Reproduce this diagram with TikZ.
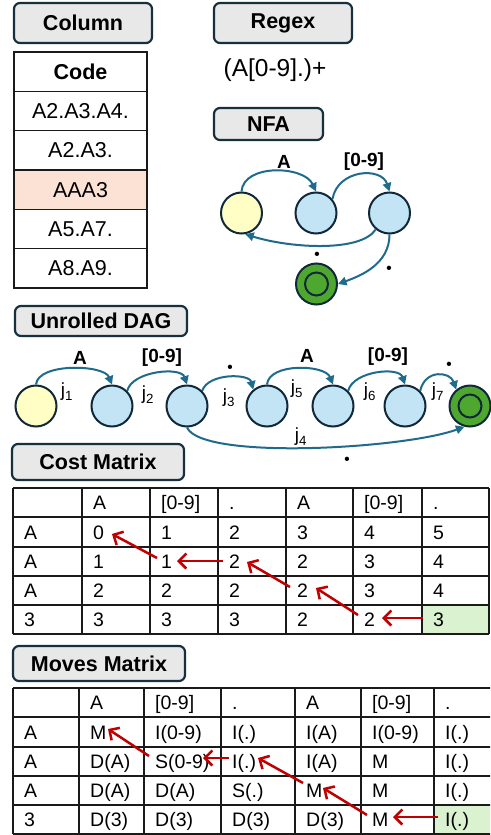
\documentclass[tikz,border=0pt]{standalone}
\usepackage{fontspec}
\setmainfont{Liberation Sans}
\newfontfamily\dotfont{Latin Modern Roman}
\usetikzlibrary{arrows.meta,calc}
\definecolor{tborder}{HTML}{17303E}
\definecolor{titlefill}{HTML}{E8E8E8}
\definecolor{gridc}{HTML}{1A1A1A}
\definecolor{peach}{HTML}{FBE2D5}
\definecolor{cellgreen}{HTML}{DAF2D0}
\definecolor{edgeblue}{HTML}{1F6B8C}
\definecolor{nodeborder}{HTML}{10283A}
\definecolor{nodeblue}{HTML}{C2E4F5}
\definecolor{nodeyellow}{HTML}{FFFFC5}
\definecolor{nodegreen}{HTML}{4EA72E}
\definecolor{pathred}{HTML}{C00000}
\newcommand\costrow[9]{%
\node[ctext] (c#1-0) at (24,#2) {#3};
\node[ctext] (c#1-1) at (93,#2) {#4};
\node[ctext] (c#1-2) at (161,#2) {#5};
\node[ctext] (c#1-3) at (229,#2) {#6};
\node[ctext] (c#1-4) at (297,#2) {#7};
\node[ctext] (c#1-5) at (364,#2) {#8};
\node[ctext] (c#1-6) at (433,#2) {#9};}
\newcommand\movesrow[9]{%
\node[ctext] (m#1-0) at (24,#2) {#3};
\node[ctext] (m#1-1) at (90,#2) {#4};
\node[ctext] (m#1-2) at (155,#2) {#5};
\node[ctext] (m#1-3) at (232,#2) {#6};
\node[ctext] (m#1-4) at (306,#2) {#7};
\node[ctext] (m#1-5) at (372,#2) {#8};
\node[ctext] (m#1-6) at (445,#2) {#9};}
\begin{document}
\begin{tikzpicture}[x=1pt,y=-1pt,
  titlebox/.style={draw=tborder, line width=2.2pt, rounded corners=6pt, fill=titlefill, inner sep=0pt,
    font=\fontsize{21.5}{24}\selectfont\bfseries},
  codecell/.style={draw=gridc, line width=1.5pt, minimum width=133, minimum height=39.3, inner sep=0pt,
    font=\fontsize{21.5}{24}\selectfont},
  grid/.style={draw=gridc, line width=1.5pt},
  ctext/.style={anchor=base west, inner sep=0pt, font=\fontsize{19.5}{22}\selectfont},
  state/.style={circle, draw=nodeborder, line width=2pt, minimum size=41, inner sep=0pt, fill=nodeblue},
  startstate/.style={state, fill=nodeyellow},
  finalstate/.style={state, fill=nodegreen,
    path picture={\draw[nodeborder, line width=2pt] (path picture bounding box.center) circle[radius=11.5pt];}},
  edge/.style={draw=edgeblue, line width=2pt, -{Triangle[length=8.5pt,width=8.5pt]}},
  elabel/.style={inner sep=0pt, font=\fontsize{19}{22}\selectfont\bfseries},
  dotlabel/.style={inner sep=0pt, font=\dotfont\fontsize{30}{32}\selectfont\bfseries},
  jlabel/.style={inner sep=0pt, font=\fontsize{19}{22}\selectfont},
  redarrow/.style={draw=pathred, line width=2.5pt, -{Straight Barb[length=7.5pt,width=15pt]}}
]
\useasboundingbox (0,0) rectangle (490,835);
\fill[white] (0,0) rectangle (490,835);

% ---------- titles ----------
\node[titlebox, minimum width=138, minimum height=40] (tcolumn) at (83,23) {Column};
\node[titlebox, minimum width=138, minimum height=40] (tregex) at (283,23) {Regex};
\node[titlebox, minimum width=109, minimum height=32] (tnfa) at (268.5,124) {NFA};
\node[titlebox, minimum width=172, minimum height=30] (tdag) at (101,321) {Unrolled DAG};
\node[titlebox, minimum width=172, minimum height=36] (tcost) at (98,462) {Cost Matrix};
\node[titlebox, minimum width=172, minimum height=35] (tmoves) at (99,663.5) {Moves Matrix};

% ---------- column table ----------
\node[codecell] (code0) at (80.5,71.65) {\bfseries Code};
\node[codecell] (code1) at (80.5,111) {A2.A3.A4.};
\node[codecell] (code2) at (80.5,150.3) {A2.A3.};
\node[codecell, fill=peach] (code3) at (80.5,189.6) {AAA3};
\node[codecell] (code4) at (80.5,229) {A5.A7.};
\node[codecell] (code5) at (80.5,268.3) {A8.A9.};

% ---------- regex ----------
\node[inner sep=0pt, font=\fontsize{24.5}{28}\selectfont] (regex) at (275,70) {(A[0-9].)+};

% ---------- NFA ----------
\node[startstate] (q0) at (241.5,213) {};
\node[state] (q1) at (316,213) {};
\node[state] (q2) at (389.5,213) {};
\node[finalstate] (qf) at (316.5,284) {};
\draw[edge] (q0.north) .. controls +(2,-28) and +(-12,-26) .. (q1.north);
\draw[edge] (q1.40) .. controls +(5,-30) and +(-8,-25) .. (q2.north);
\draw[edge] (q2.230) .. controls +(-15,23) and +(45,14) .. (q0.-80);
\draw[edge] (q2.south) .. controls +(0,30) and +(22,-8) .. (qf.east);
\node[elabel] (lA) at (284,162) {A};
\node[elabel] (l09) at (364,162) {[0-9]};
\node[dotlabel] (ldot1) at (317,254) {.};
\node[dotlabel] (ldot2) at (389,268) {.};

% ---------- unrolled DAG ----------
\node[startstate] (d1) at (36,406) {};
\node[state] (d2) at (112,406) {};
\node[state] (d3) at (187,406) {};
\node[state] (d4) at (267,406) {};
\node[state] (d5) at (333,406) {};
\node[state] (d6) at (405,406) {};
\node[finalstate] (d7) at (470,406) {};
\draw[edge] (d1.north) .. controls +(2,-22) and +(-8,-20) .. (d2.north);
\draw[edge] (d2.45) .. controls +(5,-20) and +(-6,-18) .. (d3.north);
\draw[edge] (d3.45) .. controls +(6,-18) and +(-4,-16) .. (d4.130);
\draw[edge] (d4.north) .. controls +(2,-22) and +(-8,-20) .. (d5.north);
\draw[edge] (d5.45) .. controls +(5,-20) and +(-6,-18) .. (d6.north);
\draw[edge] (d6.45) .. controls +(5,-22) and +(-6,-18) .. (d7.130);
\draw[edge] (d3.south) .. controls +(15,33) and +(-60,22) .. (d7.255);
\node[elabel] (dA1) at (80,358) {A};
\node[elabel] (d091) at (162,358) {[0-9]};
\node[dotlabel] (ddot1) at (230,367) {.};
\node[elabel] (dA2) at (307,356) {A};
\node[elabel] (d092) at (388,357) {[0-9]};
\node[dotlabel] (ddot2) at (449,364) {.};
\node[dotlabel] (ddot3) at (347,459) {.};
\node[jlabel] (j1) at (67,392) {j\textsubscript{1}};
\node[jlabel] (j2) at (148,395) {j\textsubscript{2}};
\node[jlabel] (j3) at (229,398) {j\textsubscript{3}};
\node[jlabel] (j5) at (297,389) {j\textsubscript{5}};
\node[jlabel] (j6) at (370,392) {j\textsubscript{6}};
\node[jlabel] (j7) at (438,392) {j\textsubscript{7}};
\node[jlabel] (j4) at (301,437) {j\textsubscript{4}};

% ---------- tables ----------
\begin{scope}
\clip (0,0) rectangle (490,835);
% cost matrix
\fill[cellgreen] (422,605) rectangle (489,634);
\foreach \yy in {488,517,547,576,605,634} \draw[grid] (13,\yy) -- (489,\yy);
\foreach \xx in {13,82,150,218,286,353,422,489} \draw[grid] (\xx,488) -- (\xx,634);
% moves matrix
\fill[cellgreen] (434,805) rectangle (520,834);
\foreach \yy in {688,717,747,776,805,834} \draw[grid] (13,\yy) -- (520,\yy);
\foreach \xx in {13,79,144,221,295,361,434} \draw[grid] (\xx,688) -- (\xx,834);
\end{scope}

\costrow{0}{509.5}{}{A}{[0-9]}{.}{A}{[0-9]}{.}
\costrow{1}{539}{A}{0}{1}{2}{3}{4}{5}
\costrow{2}{568.5}{A}{1}{1}{2}{2}{3}{4}
\costrow{3}{597.5}{A}{2}{2}{2}{2}{3}{4}
\costrow{4}{626.5}{3}{3}{3}{3}{2}{2}{3}

\movesrow{0}{709.5}{}{A}{[0-9]}{.}{A}{[0-9]}{.}
\movesrow{1}{739}{A}{M}{I(0-9)}{I(.)}{I(A)}{I(0-9)}{I(.)}
\movesrow{2}{768.5}{A}{D(A)}{S(0-9)}{I(.)}{I(A)}{M}{I(.)}
\movesrow{3}{797.5}{A}{D(A)}{D(A)}{S(.)}{M}{M}{I(.)}
\movesrow{4}{826.5}{3}{D(3)}{D(3)}{D(3)}{D(3)}{M}{I(.)}

% cost path arrows
\draw[redarrow] ($(c2-2.base west)+(-4,-10.5)$) -- ($(c1-1.base west)+(19,-5)$);
\draw[redarrow] ($(c2-3.base west)+(-6,-7.5)$) -- ($(c2-2.base west)+(16,-7.5)$);
\draw[redarrow] ($(c3-4.base west)+(-7,-10.5)$) -- ($(c2-3.base west)+(18,-6.5)$);
\draw[redarrow] ($(c4-5.base west)+(-6,-11.5)$) -- ($(c3-4.base west)+(19,-9.5)$);
\draw[redarrow] ($(c4-6.base west)+(-10,-8.5)$) -- ($(c4-5.base west)+(18,-8.5)$);

% moves path arrows
\draw[redarrow] ($(m2-2.base west)+(-6,-12.5)$) -- ($(m1-1.base west)+(18,-10)$);
\draw[redarrow] ($(m2-3.base west)+(-3,-10.5)$) -- ($(m2-2.base west)+(48,-10.5)$);
\draw[redarrow] ($(m3-4.base west)+(-3,-14.5)$) -- ($(m2-3.base west)+(26,-10.5)$);
\draw[redarrow] ($(m4-5.base west)+(-5,-11.5)$) -- ($(m3-4.base west)+(17,-9.5)$);
\draw[redarrow] ($(m4-6.base west)+(-7,-9.5)$) -- ($(m4-5.base west)+(21,-9.5)$);
\end{tikzpicture}
\end{document}
